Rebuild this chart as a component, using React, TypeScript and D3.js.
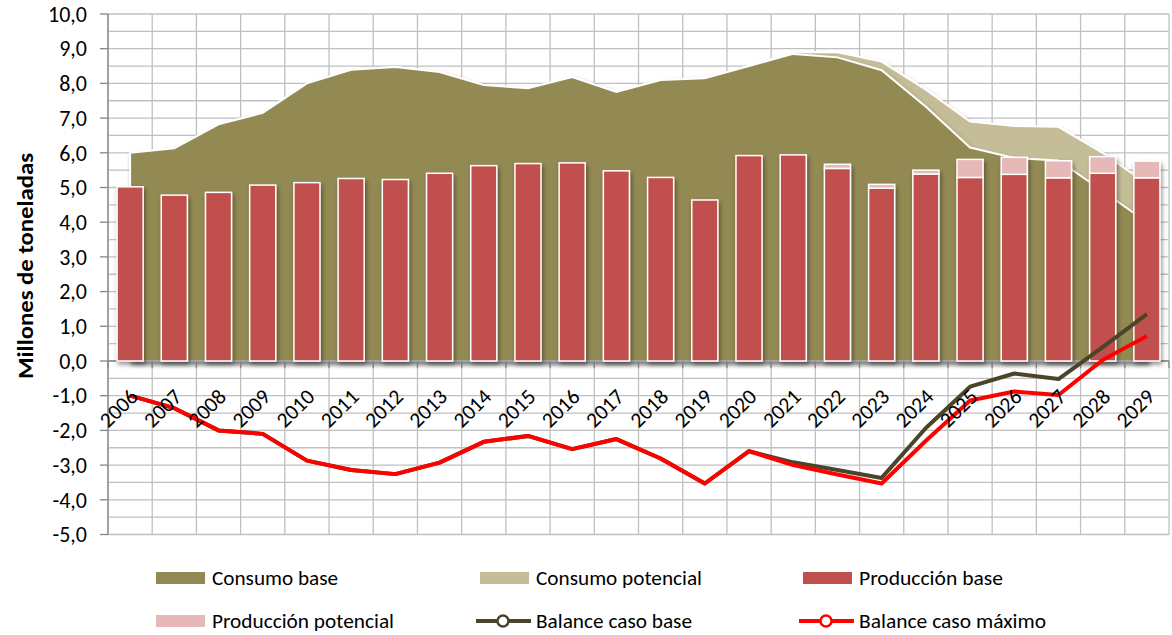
import React from "react";
import * as d3 from "d3";

const years = ["2006","2007","2008","2009","2010","2011","2012","2013","2014","2015","2016","2017","2018","2019","2020","2021","2022","2023","2024","2025","2026","2027","2028","2029"];
const consumoBase = [6.0,6.13,6.82,7.15,8.0,8.39,8.47,8.33,7.95,7.86,8.18,7.75,8.1,8.15,8.5,8.85,8.75,8.38,7.33,6.15,5.85,5.78,4.9,4.0];
const consumoPotencial = [0,0,0,0,0,0,0,0,0,0,0,0,0,0,0,0.05,0.15,0.25,0.49,0.75,0.92,0.97,1.1,1.1];
const produccionBase = [5.02,4.78,4.86,5.07,5.14,5.26,5.23,5.41,5.63,5.69,5.71,5.48,5.29,4.64,5.92,5.94,5.55,4.98,5.39,5.29,5.38,5.28,5.41,5.28];
const produccionPotencial = [0,0,0,0,0,0,0,0,0,0,0,0,0,0,0,0,0.12,0.11,0.11,0.52,0.49,0.49,0.48,0.48];
const balanceBase = [-1.0,-1.36,-2.0,-2.1,-2.87,-3.14,-3.26,-2.93,-2.33,-2.16,-2.54,-2.25,-2.81,-3.53,-2.6,-2.92,-3.14,-3.37,-1.93,-0.74,-0.36,-0.52,0.4,1.35];
const balanceMaximo = [-1.0,-1.36,-2.0,-2.1,-2.87,-3.14,-3.26,-2.93,-2.33,-2.16,-2.54,-2.25,-2.81,-3.53,-2.6,-3.0,-3.27,-3.53,-2.3,-1.14,-0.88,-0.98,0.03,0.72];
const yTicks = [-5,-4,-3,-2,-1,0,1,2,3,4,5,6,7,8,9,10];

const C_BASE = "#938953";
const C_POT = "#C4BD97";
const C_PROD = "#C0504D";
const C_PRODPOT = "#E6B9B8";
const C_LBASE = "#4A452A";
const C_LMAX = "#FF0000";
const GRID = "#C0C0C0";
const AXIS = "#868686";
const FONT = "Carlito, Calibri, Lato, sans-serif";

export default function App() {
  const W = 1172, H = 635;
  const x = d3.scaleBand<string>().domain(years).range([108, 1169]).padding(0);
  const y = d3.scaleLinear().domain([-5, 10]).range([534.5, 14]);
  const step = x.step();
  const cx = (i: number) => (x(years[i]) as number) + step / 2;
  const barW = step * 0.59;

  const idx = years.map((_, i) => i);
  const areaTotal = d3.area<number>().x(i => cx(i)).y0(y(0)).y1(i => y(consumoBase[i] + consumoPotencial[i]));
  const areaBase = d3.area<number>().x(i => cx(i)).y0(y(0)).y1(i => y(consumoBase[i]));
  const lineBase = d3.line<number>().x(i => cx(i)).y(i => y(balanceBase[i]));
  const lineMax = d3.line<number>().x(i => cx(i)).y(i => y(balanceMaximo[i]));

  const hGrid = d3.range(-5, 10.001, 0.5);
  const vGrid = d3.range(0, years.length + 1).map(i => 108 + i * step);

  const legendItems = [
    { label: "Consumo base", type: "rect", color: C_BASE, x: 156, y: 578, len: 126 },
    { label: "Consumo potencial", type: "rect", color: C_POT, x: 480, y: 578, len: 166 },
    { label: "Producción base", type: "rect", color: C_PROD, x: 803, y: 578, len: 144 },
    { label: "Producción potencial", type: "rect", color: C_PRODPOT, x: 156, y: 621, len: 182 },
    { label: "Balance caso base", type: "line", color: C_LBASE, x: 480, y: 621, len: 156 },
    { label: "Balance caso máximo", type: "line", color: C_LMAX, x: 803, y: 621, len: 187 },
  ];

  return (
    <svg width={W} height={H} style={{ position: "absolute", left: 0, top: 0, background: "#fff" }} fontFamily={FONT}>
      <defs>
        <filter id="sh" x="-10%" y="-10%" width="130%" height="130%">
          <feDropShadow dx="2" dy="3" stdDeviation="2" floodColor="#000" floodOpacity="0.3" />
        </filter>
        <filter id="shb" x="-50%" y="-20%" width="200%" height="140%">
          <feDropShadow dx="1.5" dy="3" stdDeviation="2" floodColor="#000" floodOpacity="0.4" />
        </filter>
      </defs>
      {/* gridlines */}
      <g stroke={GRID} strokeWidth={1.3}>
        {hGrid.map(v => (
          <line key={"h" + v} x1={108} x2={1169} y1={y(v)} y2={y(v)} />
        ))}
        {vGrid.map((vx, i) => (
          <line key={"v" + i} x1={vx} x2={vx} y1={y(10)} y2={y(-5)} />
        ))}
      </g>
      {/* areas */}
      <path d={areaTotal(idx) || ""} fill={C_POT} stroke="#fff" strokeWidth={2} filter="url(#sh)" />
      <path d={areaBase(idx) || ""} fill={C_BASE} stroke="#fff" strokeWidth={2} filter="url(#sh)" />
      {/* axes */}
      <line x1={108} x2={108} y1={y(10)} y2={y(-5)} stroke={AXIS} strokeWidth={1.3} />
      {yTicks.map(t => (
        <line key={"yt" + t} x1={100} x2={108} y1={y(t)} y2={y(t)} stroke={AXIS} strokeWidth={1.3} />
      ))}
      <line x1={108} x2={1169} y1={y(0)} y2={y(0)} stroke={AXIS} strokeWidth={1.3} />
      {vGrid.map((vx, i) => (
        <line key={"xt" + i} x1={vx} x2={vx} y1={y(0)} y2={y(0) + 7} stroke={AXIS} strokeWidth={1.3} />
      ))}
      {/* bars */}
      <g filter="url(#shb)">
        {years.map((yr, i) => {
          const bx = cx(i) - barW / 2;
          const top1 = y(produccionBase[i]);
          const top2 = y(produccionBase[i] + produccionPotencial[i]);
          return (
            <g key={"b" + yr}>
              <rect x={bx} y={top1} width={barW} height={y(0) - top1} fill={C_PROD} stroke="#fff" strokeWidth={1.5} />
              {produccionPotencial[i] > 0 && (
                <rect x={bx} y={top2} width={barW} height={top1 - top2} fill={C_PRODPOT} stroke="#fff" strokeWidth={1.5} />
              )}
            </g>
          );
        })}
      </g>
      {/* lines */}
      <path d={lineBase(idx) || ""} fill="none" stroke={C_LBASE} strokeWidth={4} strokeLinejoin="round" />
      <path d={lineMax(idx) || ""} fill="none" stroke={C_LMAX} strokeWidth={4} strokeLinejoin="round" />
      {/* y tick labels */}
      {yTicks.map(t => (
        <text key={"yl" + t} x={87} y={y(t)} dy="0.35em" textAnchor="end" fontSize={22} fill="#000">
          {d3.format(".1f")(t).replace(".", ",").replace("−", "-")}
        </text>
      ))}
      {/* x labels */}
      {years.map((yr, i) => (
        <text key={"xl" + yr} transform={`translate(${cx(i) + 9},${398}) rotate(-45)`} textAnchor="end" fontSize={21.5} fill="#000">
          {yr}
        </text>
      ))}
      {/* y title */}
      <text transform={`translate(33,266) rotate(-90)`} textAnchor="middle" fontSize={23} fontWeight="bold" fill="#000" textLength={226} lengthAdjust="spacingAndGlyphs">
        Millones de toneladas
      </text>
      {/* legend */}
      {legendItems.map(it => (
        <g key={it.label}>
          {it.type === "rect" ? (
            <rect x={it.x} y={it.y - 6} width={49} height={12} fill={it.color} />
          ) : (
            <g>
              <line x1={it.x - 4} x2={it.x + 51} y1={it.y} y2={it.y} stroke={it.color} strokeWidth={4} />
              <circle cx={it.x + 23} cy={it.y} r={5.5} fill="#fff" stroke={it.color} strokeWidth={2.5} />
            </g>
          )}
          <text x={it.x + 56} y={it.y} dy="0.35em" fontSize={20} fill="#000" textLength={it.len} lengthAdjust="spacingAndGlyphs">
            {it.label}
          </text>
        </g>
      ))}
    </svg>
  );
}
